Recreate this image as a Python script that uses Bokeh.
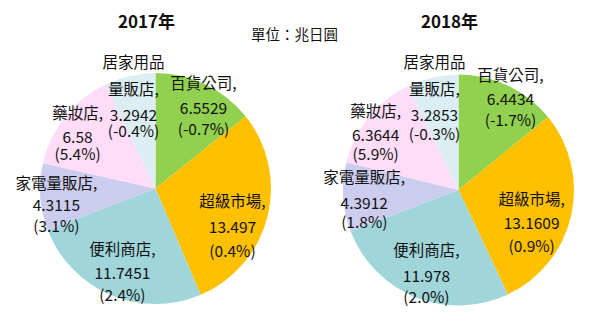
import math
from bokeh.plotting import figure
from bokeh.models import ColumnDataSource
from bokeh.core.properties import value
from bokeh.embed import file_html
from bokeh.resources import INLINE

# ---------------- data ----------------
categories = ["百貨公司", "超級市場", "便利商店", "家電量販店", "藥妝店", "居家用品量販店"]
values_2017 = [6.5529, 13.497, 11.7451, 4.3115, 6.58, 3.2942]
growth_2017 = [-0.7, 0.4, 2.4, 3.1, 5.4, -0.4]
values_2018 = [6.4434, 13.1609, 11.978, 4.3912, 6.3644, 3.2853]
growth_2018 = [-1.7, 0.9, 2.0, 1.8, 5.9, -0.3]
years = ["2017年", "2018年"]
unit_label = "單位：兆日圓"

# ---------------- style / layout ----------------
colors = ["#92D050", "#FFC000", "#A0D5D9", "#CCCCEE", "#FFDDF9", "#DAEEF3"]
W, H = 602, 323
FONT = "Noto Sans CJK TC"
centers = [(155, 188), (458, 189.5)]   # pixel coords (y down)
radius = 115.5
label_frac = 0.8
# nudges of the value line from the polar anchor, and gaps of name / pct lines
nudges = [
    [(8, 3), (-12.6, 16.4), (3, -1), (-7, 10), (-5.6, 6.4), (-1.4, 17)],
    [(12.3, -8), (-17, 13), (2.5, 0), (-2, 7), (-11, 3.6), (-3.3, 15.5)],
]
name_gap = [[-26, -27, -25, -23, -25, -27], [-25, -25, -27, -27, -25, -27]]
pct_gap = [[20, 23, 21, 20, 16, 15], [20, 22, 20, 18, 18, 18]]
wrap_at = {"居家用品量販店": 4}
title_pos = [(146, 20), (449, 20)]
unit_pos = (294, 33)

p = figure(width=W, height=H, x_range=(0, W), y_range=(0, H),
           output_backend="svg", toolbar_location=None, min_border=0,
           x_axis_location=None, y_axis_location=None)
p.grid.visible = False
p.outline_line_color = None
p.background_fill_color = "white"
p.border_fill_color = "white"


def Y(py):
    return H - py


tx, ty, tt = [], [], []
for ci, (vals, grs) in enumerate([(values_2017, growth_2017), (values_2018, growth_2018)]):
    cx, cy = centers[ci]
    total = sum(vals)
    starts, ends = [], []
    cum = 0.0
    for v in vals:
        starts.append(math.pi / 2 - cum / total * 2 * math.pi)
        cum += v
        ends.append(math.pi / 2 - cum / total * 2 * math.pi)
    src = ColumnDataSource(dict(x=[cx] * len(vals), y=[Y(cy)] * len(vals),
                                s=starts, e=ends, c=colors))
    p.wedge(x="x", y="y", radius=radius, start_angle="s", end_angle="e",
            direction="clock", fill_color="c", line_color=None, source=src)

    cum = 0.0
    for i, (name, v, g) in enumerate(zip(categories, vals, grs)):
        mid = (cum + v / 2) / total * 2 * math.pi   # clockwise from top
        cum += v
        ax = cx + label_frac * radius * math.sin(mid) + nudges[ci][i][0]
        ay = cy - label_frac * radius * math.cos(mid) + nudges[ci][i][1]
        if name in wrap_at:
            k = wrap_at[name]
            name_lines = [name[:k], name[k:] + ","]
        else:
            name_lines = [name + ","]
        for j, ln in enumerate(reversed(name_lines)):
            tx.append(ax)
            ty.append(Y(ay + name_gap[ci][i] * (j + 1)))
            tt.append(ln)
        tx.append(ax); ty.append(Y(ay)); tt.append(str(v))
        tx.append(ax); ty.append(Y(ay + pct_gap[ci][i])); tt.append(f"({g:.1f}%)")

lab = ColumnDataSource(dict(x=tx, y=ty, t=tt))
p.text(x="x", y="y", text="t", source=lab, text_align="center",
       text_baseline="middle", text_font=value(FONT),
       text_font_size="15.5px", text_color="#111111")

ts = ColumnDataSource(dict(x=[tp[0] for tp in title_pos], y=[Y(tp[1]) for tp in title_pos], t=years))
p.text(x="x", y="y", text="t", source=ts, text_align="center",
       text_baseline="middle", text_font=value(FONT), text_font_style="bold",
       text_font_size="17px", text_color="#111111")

us = ColumnDataSource(dict(x=[unit_pos[0]], y=[Y(unit_pos[1])], t=[unit_label]))
p.text(x="x", y="y", text="t", source=us, text_align="center",
       text_baseline="middle", text_font=value(FONT),
       text_font_size="14.5px", text_color="#111111")

open("out.html", "w").write(file_html(p, INLINE))
